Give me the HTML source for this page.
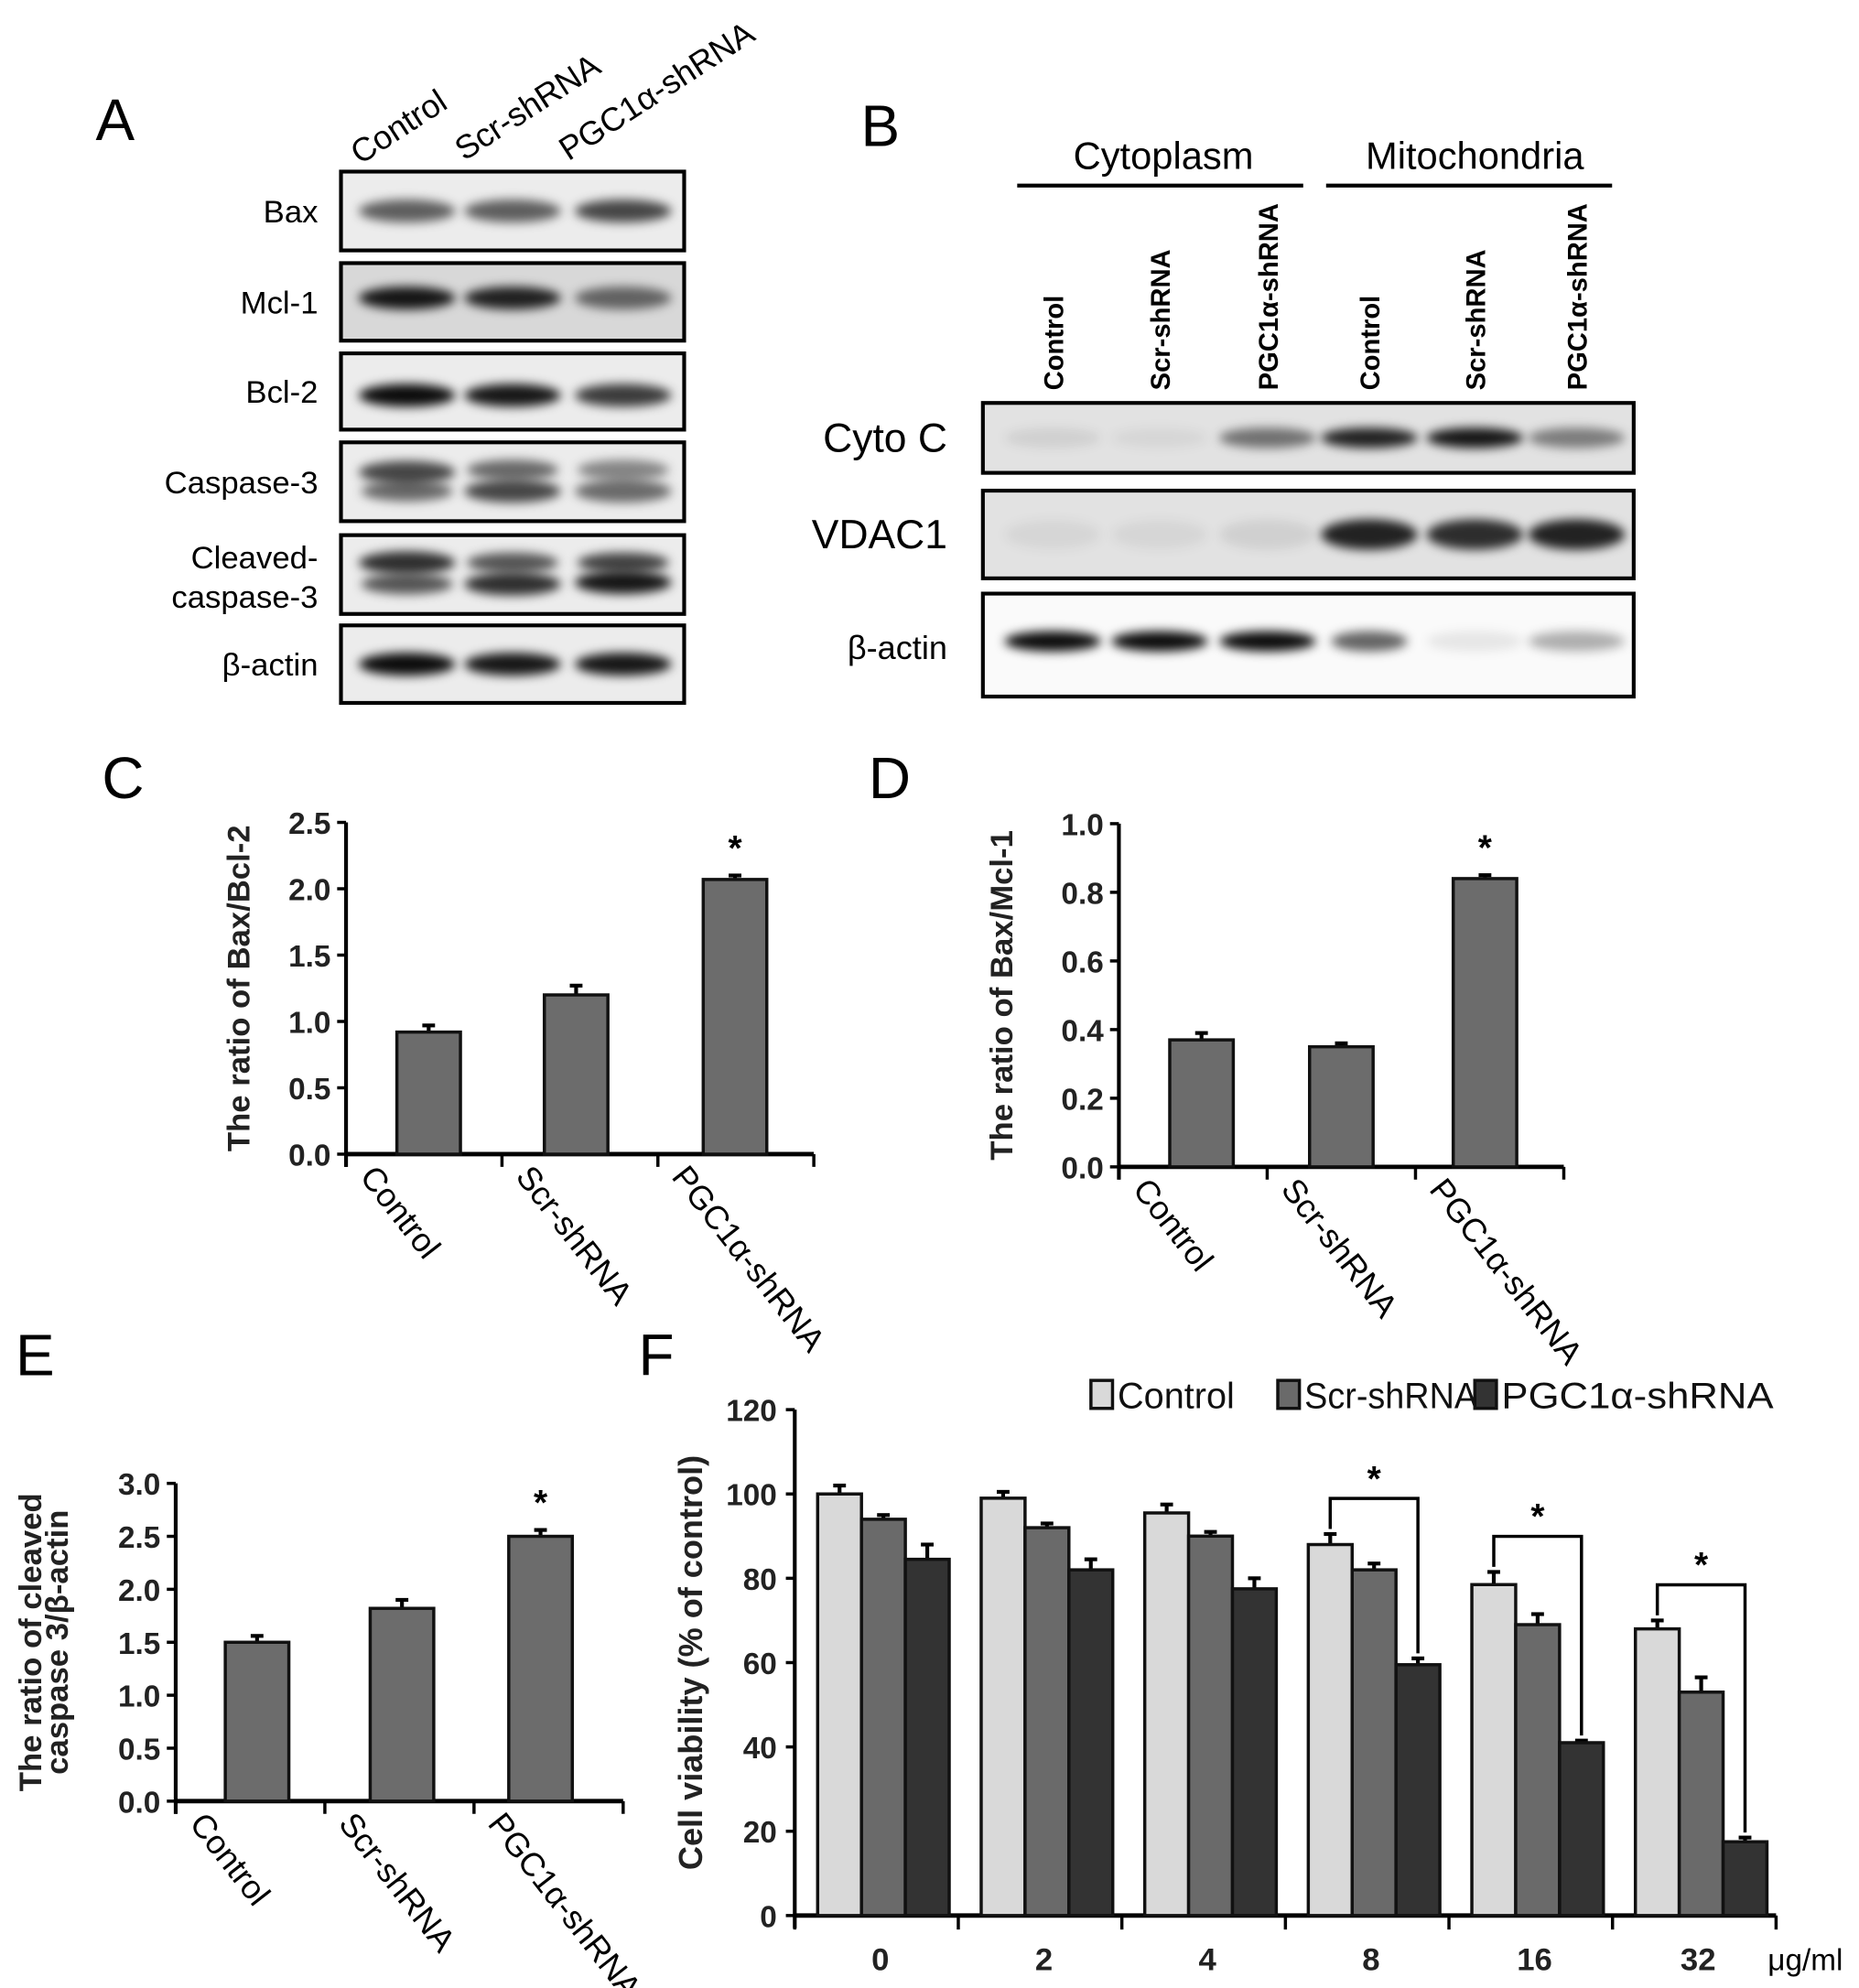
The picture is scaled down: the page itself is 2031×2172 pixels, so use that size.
<!DOCTYPE html>
<html><head><meta charset="utf-8"><style>
html,body{margin:0;padding:0;background:#fff;}
svg{display:block;font-family:"Liberation Sans",sans-serif;}
</style></head><body>
<svg id="fig" width="2031" height="2172" viewBox="0 0 1462 1564" xmlns="http://www.w3.org/2000/svg">
<defs>
<filter id="blur" x="-30%" y="-100%" width="160%" height="300%"><feGaussianBlur stdDeviation="4"/></filter>
</defs>
<g id="root"></g>
</svg>
<script>
// ---- data ----
const catLabels = ["Control","Scr-shRNA","PGC1α-shRNA"];
const cValues = [0.92,1.20,2.07];
const cErrors = [0.05,0.07,0.03];
const cTicks = ["0.0","0.5","1.0","1.5","2.0","2.5"];
const dValues = [0.37,0.35,0.84];
const dErrors = [0.02,0.01,0.01];
const dTicks = ["0.0","0.2","0.4","0.6","0.8","1.0"];
const eValues = [1.50,1.82,2.50];
const eErrors = [0.06,0.08,0.06];
const eTicks = ["0.0","0.5","1.0","1.5","2.0","2.5","3.0"];
const fDoses = ["0","2","4","8","16","32"];
const fControl = [100,99,95.5,88,78.5,68];
const fControlErr = [2,1.5,2,2.5,3,2];
const fScr = [94,92,90,82,69,53];
const fScrErr = [1,1,1,1.5,2.5,3.5];
const fPgc = [84.5,82,77.5,59.5,41,17.5];
const fPgcErr = [3.5,2.5,2.5,1.5,0.5,1];
const fTicks = ["0","20","40","60","80","100","120"];
const fSignificant = [3,4,5];

const NS="http://www.w3.org/2000/svg";
const root=document.getElementById('root');
function mk(tag,attrs,parent,text){const e=document.createElementNS(NS,tag);for(const k in attrs)e.setAttribute(k,attrs[k]);if(text!==undefined)e.textContent=text;(parent||root).appendChild(e);return e;}

// panel letters
[["A",75,110],["B",677,115],["C",80,628],["D",683,628],["E",12,1082],["F",502,1082]].forEach(p=>{
  const t=mk('text',{x:p[1],y:p[2],'font-size':46},root,p[0]);
  
  
});

// ---- Panel A blots ----
const aLanes=[320,403,490];
const aRows=[["Bax",135,197,[[0.6,0.5],[0.6,0.5],[0.7,0.5]]],["Mcl-1",207,268,[[0.9,0.45],[0.85,0.45],[0.55,0.45]]],["Bcl-2",278,338,[[0.95,0.55],[0.9,0.55],[0.75,0.55]]],["Caspase-3",348,410,[[0.7,0.38],[0.7,0.62],[0.55,0.62]]],["Cleaved-",421,483,[[0.8,0.35],[0.8,0.62],[0.9,0.6]]],["β-actin",492,553,[[0.95,0.5],[0.9,0.5],[0.9,0.5]]]];
const gA=mk('g',{});


aRows.forEach(r=>{
  const g=mk('g',{},gA);
  
  
  mk('rect',{x:268,y:r[1],width:270,height:r[2]-r[1],fill:r[0]==="Mcl-1"?'#d8d8d8':'#ececec',stroke:'#000','stroke-width':3},g);
  r[3].forEach((b,i)=>{const h=r[2]-r[1];mk('ellipse',{cx:aLanes[i],cy:r[1]+h*b[1],rx:38,ry:9,fill:'#000','fill-opacity':b[0],filter:'url(#blur)'},g);
    if(r[0]==="Caspase-3"||r[0]==="Cleaved-")mk('ellipse',{cx:aLanes[i],cy:r[1]+h*(b[1]<0.5?0.62:0.35),rx:36,ry:8,fill:'#000','fill-opacity':b[0]*0.8,filter:'url(#blur)'},g);});
  if(r[0]!=="Cleaved-"){const t=mk('text',{x:250,y:(r[1]+r[2])/2+9,'font-size':25,'text-anchor':'end'},g,r[0]);}
});
{const t=mk('text',{x:250,y:447,'font-size':25,'text-anchor':'end'},gA,"Cleaved-");
 const t2=mk('text',{x:250,y:478,'font-size':25,'text-anchor':'end'},gA,"caspase-3");}
[[283,130],[365,127],[447,127]].forEach((p,i)=>{
  const t=mk('text',{x:p[0],y:p[1],'font-size':26,transform:`rotate(-33 ${p[0]} ${p[1]})`},gA,catLabels[i]);
  
  
});

// ---- Panel B blots ----
const bLanes=[828,912,997,1077,1160,1240];
const gB=mk('g',{});


[["Cytoplasm",915,800,1025],["Mitochondria",1160,1043,1268]].forEach(h=>{
  const t=mk('text',{x:h[1],y:133,'font-size':30,'text-anchor':'middle'},gB,h[0]);
  mk('line',{x1:h[2],x2:h[3],y1:146,y2:146,stroke:'#000','stroke-width':3},gB);
});
["Control","Scr-shRNA","PGC1α-shRNA","Control","Scr-shRNA","PGC1α-shRNA"].forEach((l,i)=>{
  const x=bLanes[i]+8;
  const t=mk('text',{x:x,y:307,'font-size':21,'font-weight':'bold',transform:`rotate(-90 ${x} 307)`},gB,l);
});
const bRows=[["Cyto C",317,372,[0.08,0.05,0.5,0.85,0.9,0.45]],["VDAC1",386,455,[0.05,0.05,0.08,0.85,0.8,0.85]],["β-actin",467,548,[0.95,0.95,0.95,0.6,0.08,0.3]]];
bRows.forEach(r=>{
  const g=mk('g',{},gB);
  
  
  mk('rect',{x:773,y:r[1],width:512,height:r[2]-r[1],fill:r[0]==="β-actin"?'#fafafa':'#e2e2e2',stroke:'#000','stroke-width':3},g);
  r[3].forEach((a,i)=>{mk('ellipse',{cx:bLanes[i],cy:(r[1]+r[2])/2+(r[0]==="β-actin"?-3:0),rx:r[0]==="β-actin"&&i===3?30:38,ry:r[0]==="VDAC1"?12:8,fill:'#000','fill-opacity':a,filter:'url(#blur)'},g);});
  const t=mk('text',{x:745,y:(r[1]+r[2])/2+11,'font-size':r[0]==="β-actin"?26:32,'text-anchor':'end'},g,r[0]);
});

// ---- simple bar charts C, D, E ----
function barChart(name,vals,errs,ticks,tmax,x0,x1,yTop,yBot,centers,title,titleX){
  const g=mk('g',{});
  
  
  const ys=v=>yBot-(v/tmax)*(yBot-yTop);
  mk('line',{x1:x0,x2:x0,y1:yTop,y2:yBot+10,stroke:'#000','stroke-width':3},g);
  mk('line',{x1:x0,x2:x1,y1:yBot,y2:yBot,stroke:'#000','stroke-width':3.5},g);
  ticks.forEach(tk=>{const v=parseFloat(tk);const y=ys(v);
    mk('line',{x1:x0-7,x2:x0,y1:y,y2:y,stroke:'#000','stroke-width':2.5},g);
    const t=mk('text',{x:x0-12,y:y+9,'font-size':24,'font-weight':'bold','text-anchor':'end',fill:'#222'},g,tk);
    });
  const step=(x1-x0)/3;
  for(let i=0;i<=3;i++)mk('line',{x1:x0+i*step,x2:x0+i*step,y1:yBot,y2:yBot+10,stroke:'#000','stroke-width':2.5},g);
  vals.forEach((v,i)=>{const cx=centers[i];
    const eb=mk('line',{x1:cx,x2:cx,y1:ys(v+errs[i]),y2:ys(v),stroke:'#000','stroke-width':3},g);
    
    mk('line',{x1:cx-5,x2:cx+5,y1:ys(v+errs[i]),y2:ys(v+errs[i]),stroke:'#000','stroke-width':3},g);
    const b=mk('rect',{x:cx-25,y:ys(v),width:50,height:yBot-ys(v),fill:'#6c6c6c',stroke:'#111','stroke-width':2.5},g);
    
    const lx=x0+i*step+10,ly=yBot+18;
    const t=mk('text',{x:lx,y:ly,'font-size':26,transform:`rotate(52 ${lx} ${ly})`},g,catLabels[i]);
    
  });
  const s=mk('text',{x:centers[2],y:ys(vals[2]+errs[2])-12,'font-size':28,'font-weight':'bold','text-anchor':'middle'},g,'*');
  
  const cy=(yTop+yBot)/2;
  title.forEach((tl,k)=>{const tx=titleX+k*21;const t=mk('text',{x:tx,y:cy,'font-size':25,'font-weight':'bold','text-anchor':'middle',fill:'#222',transform:`rotate(-90 ${tx} ${cy})`},g,tl);
    });
}
barChart('chart-c-bax-bcl2',cValues,cErrors,cTicks,2.5,272,640,647,908,[337,453,578],["The ratio of Bax/Bcl-2"],196);
barChart('chart-d-bax-mcl1',dValues,dErrors,dTicks,1.0,880,1230,648,918,[945,1055,1168],["The ratio of Bax/Mcl-1"],796);
barChart('chart-e-cleaved-caspase3',eValues,eErrors,eTicks,3.0,138,490,1167,1417,[202,316,425],["The ratio of cleaved","caspase 3/β-actin"],32);

// ---- Panel F grouped chart ----
(function(){
  const g=mk('g',{});
  
  
  const x0=625,x1=1397,yTop=1109,yBot=1507;
  const ys=v=>yBot-(v/120)*(yBot-yTop);
  const gw=(x1-x0)/fDoses.length, bw=34.5;
  mk('line',{x1:x0,x2:x0,y1:yTop,y2:yBot+10,stroke:'#000','stroke-width':3},g);
  mk('line',{x1:x0,x2:x1,y1:yBot,y2:yBot,stroke:'#000','stroke-width':3.5},g);
  fTicks.forEach(tk=>{const y=ys(+tk);mk('line',{x1:x0-7,x2:x0,y1:y,y2:y,stroke:'#000','stroke-width':2.5},g);
    const t=mk('text',{x:x0-14,y:y+9,'font-size':24,'font-weight':'bold','text-anchor':'end',fill:'#222'},g,tk);
    });
  for(let i=0;i<=fDoses.length;i++)mk('line',{x1:x0+i*gw,x2:x0+i*gw,y1:yBot,y2:yBot+11,stroke:'#000','stroke-width':2.5},g);
  const series=[[fControl,fControlErr,'#d9d9d9','control'],[fScr,fScrErr,'#6a6a6a','scr-shrna'],[fPgc,fPgcErr,'#333333','pgc1a-shrna']];
  fDoses.forEach((d,i)=>{
    series.forEach((s,k)=>{const v=s[0][i],e=s[1][i];const bx=x0+i*gw+18+k*bw;const cx=bx+bw/2;
      mk('line',{x1:cx,x2:cx,y1:ys(v+e),y2:ys(v),stroke:'#000','stroke-width':3},g);
      mk('line',{x1:cx-5,x2:cx+5,y1:ys(v+e),y2:ys(v+e),stroke:'#000','stroke-width':3},g);
      const b=mk('rect',{x:bx,y:ys(v),width:bw,height:yBot-ys(v),fill:s[2],stroke:'#111','stroke-width':2.5},g);
      
    });
    const t=mk('text',{x:x0+i*gw+gw/2+3,y:1550,'font-size':25,'font-weight':'bold','text-anchor':'middle',fill:'#222'},g,d);
    
  });
  fSignificant.forEach(i=>{
    const cA=x0+i*gw+18+bw/2, cC=x0+i*gw+18+2.5*bw;
    const top=ys(fControl[i]+fControlErr[i])-28;
    const p=mk('path',{d:`M${cA} ${ys(fControl[i]+fControlErr[i])-4} V${top} H${cC} V${ys(fPgc[i]+fPgcErr[i])-4}`,fill:'none',stroke:'#000','stroke-width':2.5},g);
    
    const s=mk('text',{x:(cA+cC)/2,y:top-6,'font-size':28,'font-weight':'bold','text-anchor':'middle'},g,'*');
    
  });
  const u=mk('text',{x:1420,y:1550,'font-size':24,'text-anchor':'middle'},g,'μg/ml');
  
  const cy=(yTop+yBot)/2;
  const tt=mk('text',{x:552,y:cy,'font-size':26,'font-weight':'bold','text-anchor':'middle',fill:'#222',transform:`rotate(-90 552 ${cy})`},g,'Cell viability (% of control)');
  
  const leg=[[858,'#d9d9d9','Control',92],[1005,'#6a6a6a','Scr-shRNA',136],[1160,'#333333','PGC1α-shRNA',214]];
  leg.forEach(l=>{const lg=mk('g',{},g);
    
    mk('rect',{x:l[0],y:1086,width:17,height:22,fill:l[1],stroke:'#111','stroke-width':2.5},lg);
    mk('text',{x:l[0]+21,y:1108,'font-size':29,fill:'#111',textLength:l[3],lengthAdjust:'spacingAndGlyphs'},lg,l[2]);
  });
})();
</script>
</body></html>
